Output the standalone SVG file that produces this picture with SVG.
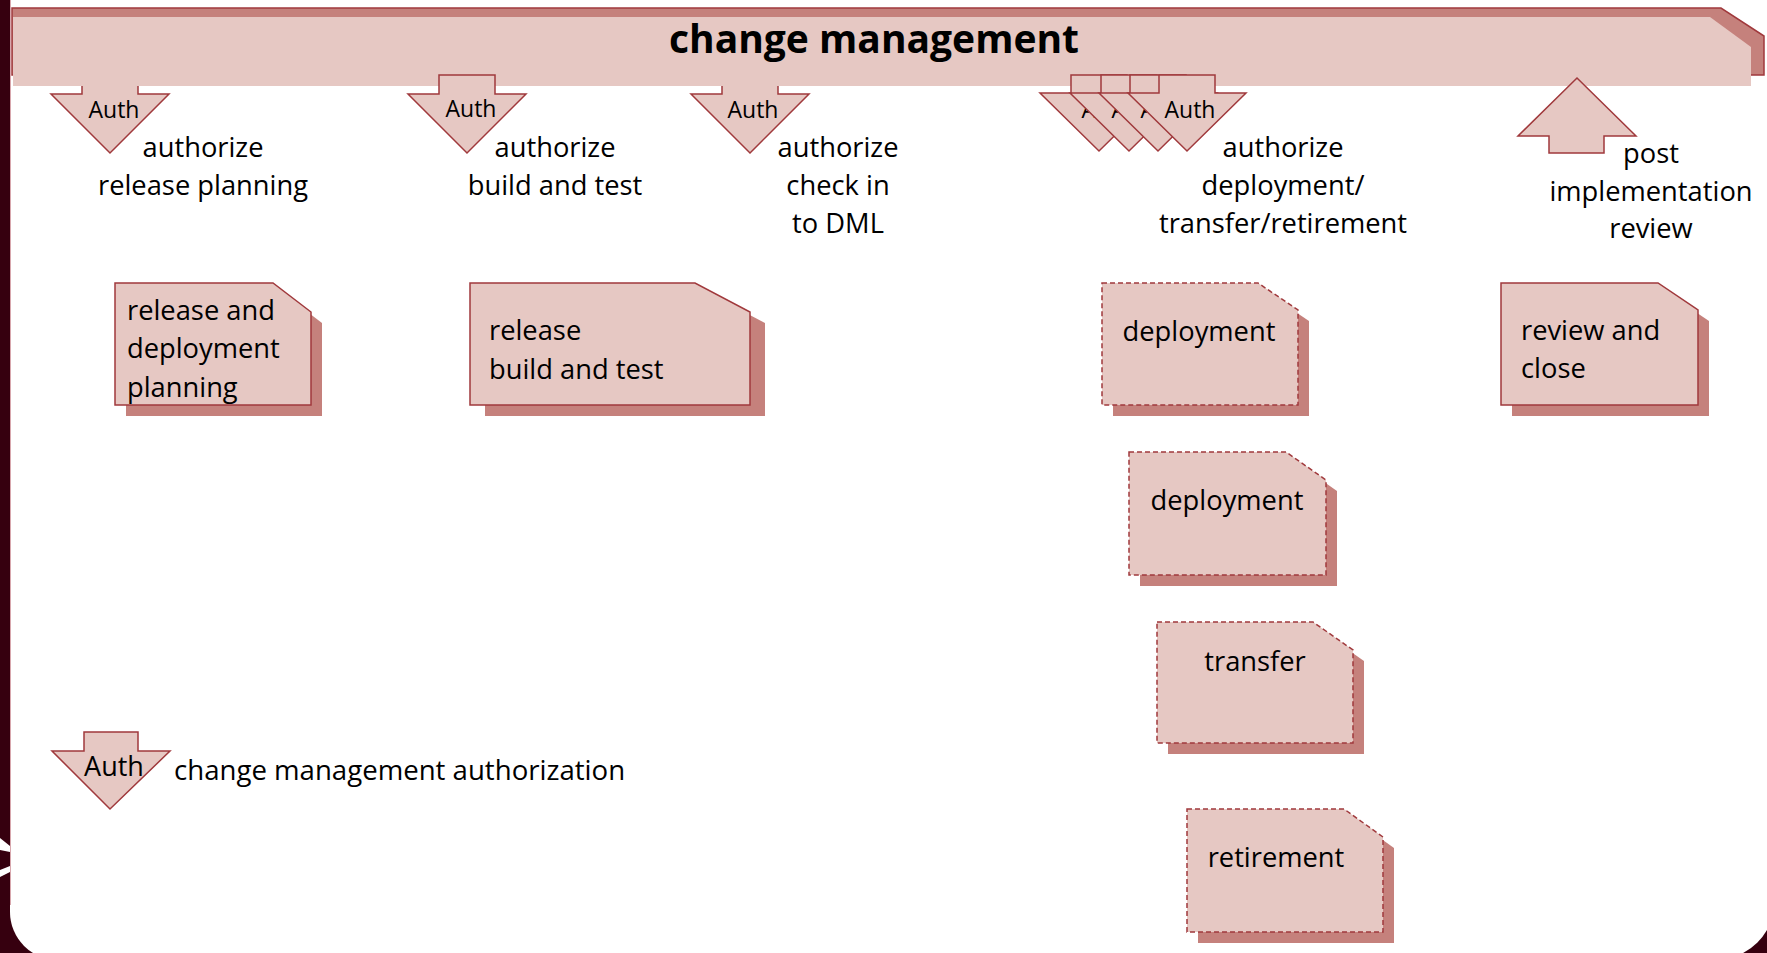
<svg xmlns="http://www.w3.org/2000/svg" width="1767" height="953" viewBox="0 0 1767 953">
  <style>
    .txt { font-family: "Open Sans", "Liberation Sans", sans-serif; font-size: 27.3px; fill: #000; }
    .mid { text-anchor: middle; }
    .auth { font-family: "Open Sans", "Liberation Sans", sans-serif; font-size: 23px; fill: #000; text-anchor: middle; }
    .title { font-family: "Open Sans", "Liberation Sans", sans-serif; font-size: 39px; font-weight: bold; fill: #000; text-anchor: middle; }
    .arrow { fill: #e6c8c3; stroke: #a0393c; stroke-width: 1.5; stroke-linejoin: miter; }
    .box { fill: #e6c8c3; stroke: #a0393c; stroke-width: 1.5; }
    .dashed { stroke-dasharray: 5 3; }
    .shadow { fill: #c5817c; stroke: none; }
  </style>

  <!-- slide frame: dark border with white rounded panel -->
  <rect x="0" y="0" width="1767" height="953" fill="#36000f"/>
  <path d="M10,0 H1775 V900 A60,60 0 0 1 1715,960 H58 A48,48 0 0 1 10,912 Z" fill="#ffffff"/>
  <line x1="10.5" y1="0" x2="10.5" y2="905" stroke="#d8a7ad" stroke-width="1"/>
  <polygon points="0,838 10,846 10,852 0,850" fill="#ffffff"/>
  <polygon points="0,870 10,866 10,872 0,877" fill="#ffffff"/>

  <!-- authorization arrows that sit beneath the banner -->
  <g id="auth-release-planning">
    <polygon class="arrow" points="82,75 138,75 138,94 169,94 110,153 51,94 82,94"/>
    <text class="auth" x="114" y="118">Auth</text>
  </g>
  <g id="auth-check-in">
    <polygon class="arrow" points="722,75 778,75 778,94 809,94 750,153 691,94 722,94"/>
    <text class="auth" x="753" y="118">Auth</text>
  </g>

  <!-- change management banner -->
  <g id="change-management">
    <path d="M12,8 H1721 L1764,36 V75 H12 Z" fill="#c5817c" stroke="#a0393c" stroke-width="1.5"/>
    <path d="M13,17 H1710 L1751,47 V86 H13 Z" fill="#e6c8c3"/>
    <text class="title" x="874" y="53">change management</text>
  </g>

  <!-- authorization arrows drawn over the banner -->
  <g id="auth-build-test">
    <polygon class="arrow" points="439,75 495,75 495,94 526,94 467,153 408,94 439,94"/>
    <text class="auth" x="471" y="117">Auth</text>
  </g>
  <g id="auth-deployment-stack">
    <polygon class="arrow" points="1071,75 1127,75 1127,93 1158,93 1099,151 1040,93 1071,93"/>
    <text class="auth" x="1107" y="118">Auth</text>
    <polygon class="arrow" points="1101,75 1157,75 1157,93 1188,93 1129,151 1070,93 1101,93"/>
    <text class="auth" x="1137" y="118">Auth</text>
    <polygon class="arrow" points="1130,75 1186,75 1186,93 1217,93 1158,151 1099,93 1130,93"/>
    <text class="auth" x="1166" y="118">Auth</text>
    <polygon class="arrow" points="1159,75 1215,75 1215,93 1246,93 1187,151 1128,93 1159,93"/>
    <text class="auth" x="1190" y="118">Auth</text>
  </g>
  <g id="post-implementation-arrow">
    <polygon class="arrow" points="1577,78 1636,136 1604,136 1604,153 1549,153 1549,136 1518,136"/>
  </g>

  <!-- step labels -->
  <g id="label-release-planning">
    <text class="txt mid" x="203" y="157">authorize</text>
    <text class="txt mid" x="203" y="195">release planning</text>
  </g>
  <g id="label-build-test">
    <text class="txt mid" x="555" y="157">authorize</text>
    <text class="txt mid" x="555" y="195">build and test</text>
  </g>
  <g id="label-check-in">
    <text class="txt mid" x="838" y="157">authorize</text>
    <text class="txt mid" x="838" y="195">check in</text>
    <text class="txt mid" x="838" y="233">to DML</text>
  </g>
  <g id="label-deployment">
    <text class="txt mid" x="1283" y="157">authorize</text>
    <text class="txt mid" x="1283" y="195">deployment/</text>
    <text class="txt mid" x="1283" y="233">transfer/retirement</text>
  </g>
  <g id="label-post-implementation">
    <text class="txt mid" x="1651" y="163">post</text>
    <text class="txt mid" x="1651" y="201">implementation</text>
    <text class="txt mid" x="1651" y="238">review</text>
  </g>

  <!-- process boxes -->
  <g id="release-deployment-planning">
    <path class="shadow" d="M126,294 H284 L322,323 V416 H126 Z"/>
    <path class="box" d="M115,283 H273 L311,312 V405 H115 Z"/>
    <text class="txt" x="127" y="320">release and</text>
    <text class="txt" x="127" y="358">deployment</text>
    <text class="txt" x="127" y="397">planning</text>
  </g>
  <g id="release-build-test">
    <path class="shadow" d="M485,294 H710 L765,323 V416 H485 Z"/>
    <path class="box" d="M470,283 H695 L750,312 V405 H470 Z"/>
    <text class="txt" x="489" y="340">release</text>
    <text class="txt" x="489" y="379">build and test</text>
  </g>
  <g id="deployment-1">
    <path class="shadow" d="M1113,294 H1269 L1309,321 V416 H1113 Z"/>
    <path class="box dashed" d="M1102,283 H1258 L1298,310 V405 H1102 Z"/>
    <text class="txt mid" x="1199" y="341">deployment</text>
  </g>
  <g id="deployment-2">
    <path class="shadow" d="M1140,463 H1297 L1337,491 V586 H1140 Z"/>
    <path class="box dashed" d="M1129,452 H1286 L1326,480 V575 H1129 Z"/>
    <text class="txt mid" x="1227" y="510">deployment</text>
  </g>
  <g id="transfer">
    <path class="shadow" d="M1168,633 H1324 L1364,661 V754 H1168 Z"/>
    <path class="box dashed" d="M1157,622 H1313 L1353,650 V743 H1157 Z"/>
    <text class="txt mid" x="1255" y="671">transfer</text>
  </g>
  <g id="retirement">
    <path class="shadow" d="M1198,820 H1355 L1394,848 V943 H1198 Z"/>
    <path class="box dashed" d="M1187,809 H1344 L1383,837 V932 H1187 Z"/>
    <text class="txt mid" x="1276" y="867">retirement</text>
  </g>
  <g id="review-close">
    <path class="shadow" d="M1512,294 H1669 L1709,321 V416 H1512 Z"/>
    <path class="box" d="M1501,283 H1658 L1698,310 V405 H1501 Z"/>
    <text class="txt" x="1521" y="340">review and</text>
    <text class="txt" x="1521" y="378">close</text>
  </g>

  <!-- legend -->
  <g id="legend">
    <polygon class="arrow" points="84,732 138,732 138,751 170,751 110,809 52,751 84,751"/>
    <text class="auth" x="114" y="776" style="font-size:27px">Auth</text>
    <text class="txt" x="174" y="780" style="font-size:27.6px">change management authorization</text>
  </g>

  <!-- connectors: none drawn between nodes -->
  <g id="connectors"/>
</svg>
